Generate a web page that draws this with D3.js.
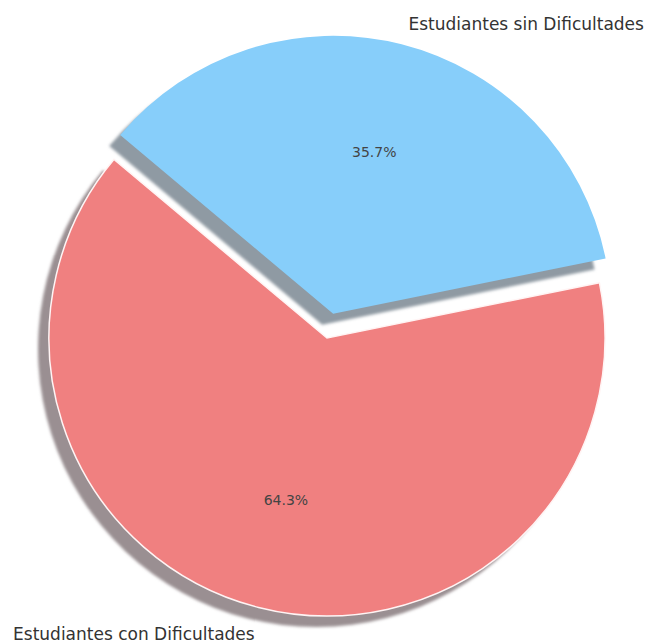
<!DOCTYPE html>
<html>
<head>
<meta charset="utf-8">
<script src="https://cdn.jsdelivr.net/npm/d3@7"></script>
<style>
  html, body { margin: 0; padding: 0; background: #fff; }
  svg { display: block; }
</style>
</head>
<body>
<svg id="chart" width="657" height="643"></svg>
<script>
// ---- data ----
const categories = ["Estudiantes con Dificultades", "Estudiantes sin Dificultades"];
const values = [64.3, 35.7];
const colors = ["#F08080", "#87CEFA"];
const shadowColors = ["#9a8f92", "#8f9aa3"];
const explode = [0, 0.09];
const pctLabels = ["64.3%", "35.7%"];
const startAngleDeg = 140; // matplotlib-style, counterclockwise

// ---- layout ----
const W = 657, H = 643;
const cx = 327, cy = 338, R = 278;
const shadowDx = -11, shadowDy = 11;

const svg = d3.select("#chart");
const defs = svg.append("defs");
defs.append("filter").attr("id", "blur")
  .attr("x", "-10%").attr("y", "-10%").attr("width", "120%").attr("height", "120%")
  .append("feGaussianBlur").attr("stdDeviation", 1.8);

const rad = d => d * Math.PI / 180;
const a0 = rad(90 - startAngleDeg);
const pie = d3.pie().sort(null).value(d => d)
  .startAngle(a0).endAngle(a0 - 2 * Math.PI);
const arcs = pie(values);
const arc = d3.arc().innerRadius(0).outerRadius(R);

const g = svg.append("g").attr("transform", `translate(${cx},${cy})`);

function offsetOf(d, i) {
  const mid = (d.startAngle + d.endAngle) / 2;
  const e = explode[i] * R;
  return [e * Math.sin(mid), -e * Math.cos(mid)];
}

// shadows (below all wedges)
const shadowLayer = g.append("g").attr("filter", "url(#blur)");
arcs.forEach((d, i) => {
  const [ox, oy] = offsetOf(d, i);
  shadowLayer.append("path")
    .attr("d", arc(d))
    .attr("transform", `translate(${ox + shadowDx},${oy + shadowDy})`)
    .attr("fill", shadowColors[i]);
});

// wedges
arcs.forEach((d, i) => {
  const [ox, oy] = offsetOf(d, i);
  g.append("path")
    .attr("d", arc(d))
    .attr("transform", `translate(${ox},${oy})`)
    .attr("fill", colors[i])
    .attr("stroke", i === 0 ? "#fff4f4" : "none")
    .attr("stroke-width", 1.5);
});

// labels
arcs.forEach((d, i) => {
  const [ox, oy] = offsetOf(d, i);
  const mid = (d.startAngle + d.endAngle) / 2;
  const lx = ox + 1.1 * R * Math.sin(mid);
  const ly = oy - 1.1 * R * Math.cos(mid);
  g.append("text")
    .attr("x", lx > 0 ? lx : lx + 3).attr("y", ly < 0 ? ly + 7 : ly)
    .attr("dy", "0.35em")
    .attr("text-anchor", lx > 0 ? "start" : "end")
    .attr("font-family", "DejaVu Sans, sans-serif")
    .attr("font-size", 17)
    .attr("fill", "#333")
    .text(categories[i]);
  const px = ox + 0.6 * R * Math.sin(mid);
  const py = oy - 0.6 * R * Math.cos(mid);
  g.append("text")
    .attr("x", px).attr("y", py)
    .attr("dy", "0.35em")
    .attr("text-anchor", "middle")
    .attr("font-family", "DejaVu Sans, sans-serif")
    .attr("font-size", 14)
    .attr("fill", "#444")
    .text(pctLabels[i]);
});
</script>
</body>
</html>
